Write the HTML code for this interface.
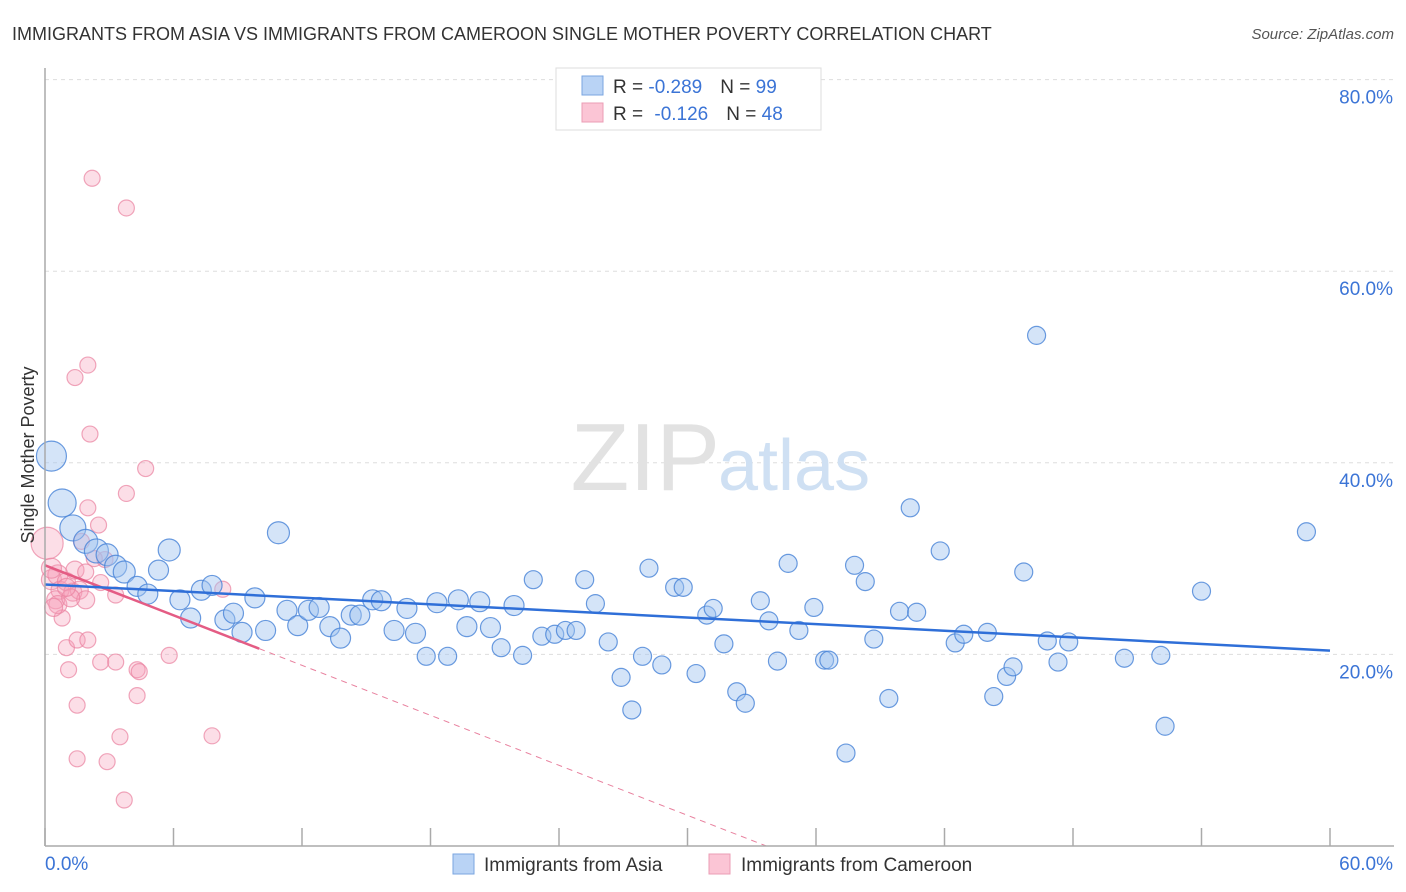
<!DOCTYPE html>
<html><head><meta charset="utf-8">
<style>
body{margin:0;background:#fff;font-family:"Liberation Sans",sans-serif;}
#wrap{position:relative;width:1406px;height:892px;overflow:hidden;}
svg text{font-family:"Liberation Sans",sans-serif;}
</style></head>
<body>
<div id="wrap">
<svg id="chart" width="1406" height="892">
  <text x="12" y="40" font-size="18" fill="#333">IMMIGRANTS FROM ASIA VS IMMIGRANTS FROM CAMEROON SINGLE MOTHER POVERTY CORRELATION CHART</text>
  <text x="1394" y="39" font-size="15" fill="#555" font-style="italic" text-anchor="end">Source: ZipAtlas.com</text>
  <g id="grid"></g>
  <text x="720" y="490" font-size="96" fill="#e2e2e2" text-anchor="end" font-family="Liberation Serif">ZIP</text>
  <text x="718" y="490" font-size="72" fill="#cfe0f3">atlas</text>
  <g id="pts"></g>
  <g id="axes"></g>
  <text x="34" y="455" font-size="18" fill="#333" text-anchor="middle" transform="rotate(-90 34 455)">Single Mother Poverty</text>
  <g>
    <rect x="556" y="68" width="265" height="62" fill="#fff" stroke="#ddd"/>
    <rect x="582" y="76" width="21" height="19" fill="#b9d3f5" stroke="#7aa6e0"/>
    <rect x="582" y="103" width="21" height="19" fill="#fbc5d5" stroke="#eb9db5"/>
    <text x="613" y="93" font-size="19" fill="#333">R = <tspan fill="#3b74d6">-0.289</tspan><tspan dx="18">N = </tspan><tspan fill="#3b74d6">99</tspan></text>
    <text x="613" y="120" font-size="19" fill="#333">R = <tspan fill="#3b74d6" dx="6">-0.126</tspan><tspan dx="18">N = </tspan><tspan fill="#3b74d6">48</tspan></text>
  </g>
  <g>
    <rect x="453" y="854" width="21" height="20" fill="#b9d3f5" stroke="#7aa6e0"/>
    <text x="484" y="871" font-size="19" fill="#333">Immigrants from Asia</text>
    <rect x="709" y="854" width="21" height="20" fill="#fbc5d5" stroke="#eb9db5"/>
    <text x="741" y="871" font-size="19" fill="#333">Immigrants from Cameroon</text>
  </g>
</svg>
</div>
<script>
const asiaX=[0.3,0.8,1.3,1.9,2.4,2.9,3.3,3.7,4.3,4.8,5.3,5.8,6.3,6.8,7.3,7.8,8.4,8.8,9.2,9.8,10.3,10.9,11.3,11.8,12.3,12.8,13.3,13.8,14.3,14.7,15.3,15.7,16.3,16.9,17.3,17.8,18.3,18.8,19.3,19.7,20.3,20.8,21.3,21.9,22.3,22.8,23.2,23.8,24.3,24.8,25.2,25.7,26.3,26.9,27.4,27.9,28.2,28.8,29.4,29.8,30.4,30.9,31.2,31.7,32.3,32.7,33.4,33.8,34.2,34.7,35.2,35.9,36.4,36.6,37.4,37.8,38.3,38.7,39.4,39.9,40.7,40.4,41.8,42.5,42.9,44.0,44.3,44.9,45.2,45.7,46.3,46.8,47.3,47.8,50.4,52.1,52.3,54.0,58.9];
const asiaY=[40.7,35.8,33.2,31.8,30.8,30.4,29.2,28.6,27.1,26.3,28.8,30.9,25.7,23.8,26.7,27.2,23.6,24.3,22.3,25.9,22.5,32.7,24.6,23.0,24.6,24.9,22.9,21.7,24.1,24.1,25.7,25.6,22.5,24.8,22.2,19.8,25.4,19.8,25.7,22.9,25.5,22.8,20.7,25.1,19.9,27.8,21.9,22.1,22.5,22.5,27.8,25.3,21.3,17.6,14.2,19.8,29.0,18.9,27.0,27.0,18.0,24.1,24.8,21.1,16.1,14.9,25.6,23.5,19.3,29.5,22.5,24.9,19.4,19.4,9.7,29.3,27.6,21.6,15.4,24.5,24.4,35.3,30.8,21.2,22.1,22.3,15.6,17.7,18.7,28.6,53.3,21.4,19.2,21.3,19.6,19.9,12.5,26.6,32.8];
const asiaR=[15,14,13,12,12,11,11,11,10,10,10,11,10,10,10,10,10,10,10,10,10,11,10,10,10,10,10,10,10,10,10,10,10,10,10,9,10,9,10,10,10,10,9,10,9,9,9,9,9,9,9,9,9,9,9,9,9,9,9,9,9,9,9,9,9,9,9,9,9,9,9,9,9,9,9,9,9,9,9,9,9,9,9,9,9,9,9,9,9,9,9,9,9,9,9,9,9,9,9];
const camX=[0.1,0.3,0.6,0.7,0.5,1.0,1.3,1.6,1.9,1.4,2.2,3.8,1.4,2.0,2.1,4.7,3.8,2.0,2.5,1.7,2.8,3.3,2.6,1.9,8.3,0.8,1.0,1.5,2.0,1.1,2.6,3.3,4.3,4.4,5.8,4.3,1.5,3.5,7.8,1.5,2.9,3.7,0.6,1.2,0.3,1.0,2.3,0.4];
const camY=[31.6,27.8,28.3,26.7,25.7,27.6,26.5,26.7,25.7,28.8,69.7,66.6,48.9,50.2,43.0,39.4,36.8,35.3,33.5,31.8,29.9,26.2,27.5,28.6,26.8,23.8,20.7,21.5,21.5,18.4,19.2,19.2,18.4,18.2,19.9,15.7,14.7,11.4,11.5,9.1,8.8,4.8,25.2,25.9,29.0,27.0,30.0,24.9];
const camR=[16,10,10,9,9,9,9,9,9,9,8,8,8,8,8,8,8,8,8,8,8,8,8,8,8,8,8,8,8,8,8,8,8,8,8,8,8,8,8,8,8,8,9,9,10,9,8,9];
const yTicks=[20,40,60,80];
const xTickLabels=["0.0%","60.0%"];
const asiaTrend=[27.3,20.4];
const camTrend=[29.3,-0.87];

const NS="http://www.w3.org/2000/svg";
const X0=45,X1=1330,Y0=846,PY=9.58;
function sx(v){return X0+(v/60)*(X1-X0);}
function sy(v){return Y0-v*PY;}
function mk(tag,attrs,parent){const e=document.createElementNS(NS,tag);for(const k in attrs)e.setAttribute(k,attrs[k]);parent.appendChild(e);return e;}
const grid=document.getElementById('grid'),axes=document.getElementById('axes'),pts=document.getElementById('pts');
yTicks.forEach(t=>{
  const l=mk('line',{x1:X0,x2:1394,y1:sy(t),y2:sy(t),stroke:'#ddd','stroke-dasharray':'4,4'},grid);
  
  
  const tx=mk('text',{x:1393,y:sy(t)+24,'font-size':19,fill:'#3b74d6','text-anchor':'end'},axes);
  tx.textContent=t.toFixed(1)+'%';
  
  
});
const ax=mk('line',{x1:X0,x2:X0,y1:68,y2:Y0,stroke:'#aaa','stroke-width':1.5},axes);


const bx=mk('line',{x1:X0,x2:1394,y1:Y0,y2:Y0,stroke:'#aaa','stroke-width':1.5},axes);


for(let i=0;i<=10;i++){
  const t=mk('line',{x1:sx(i*6),x2:sx(i*6),y1:828,y2:Y0,stroke:'#aaa','stroke-width':1.5},axes);
  
  
}
const xl0=mk('text',{x:45,y:870,'font-size':19,fill:'#3b74d6'},axes);xl0.textContent=xTickLabels[0];


const xl1=mk('text',{x:1393,y:870,'font-size':19,fill:'#3b74d6','text-anchor':'end'},axes);xl1.textContent=xTickLabels[1];



camX.forEach((v,i)=>{
  const c=mk('circle',{cx:sx(v),cy:sy(camY[i]),r:camR[i],fill:'rgba(246,160,185,0.35)',stroke:'rgba(233,130,160,0.7)','stroke-width':1.2},pts);
  
  
});
asiaX.forEach((v,i)=>{
  const c=mk('circle',{cx:sx(v),cy:sy(asiaY[i]),r:asiaR[i],fill:'rgba(160,195,240,0.45)',stroke:'rgba(70,130,215,0.8)','stroke-width':1.2},pts);
  
  
});
const zeroX=-camTrend[0]/camTrend[1];
const cd=mk('line',{x1:sx(10),y1:sy(camTrend[0]+camTrend[1]*10),x2:sx(zeroX),y2:sy(0),stroke:'#e8809e','stroke-width':1,'stroke-dasharray':'6,5'},pts);


const cl=mk('line',{x1:sx(0),y1:sy(camTrend[0]),x2:sx(10),y2:sy(camTrend[0]+camTrend[1]*10),stroke:'#e45c84','stroke-width':2.5},pts);


const al=mk('line',{x1:sx(0),y1:sy(asiaTrend[0]),x2:sx(60),y2:sy(asiaTrend[1]),stroke:'#2f6fd8','stroke-width':2.5},pts);


</script>
</body></html>
